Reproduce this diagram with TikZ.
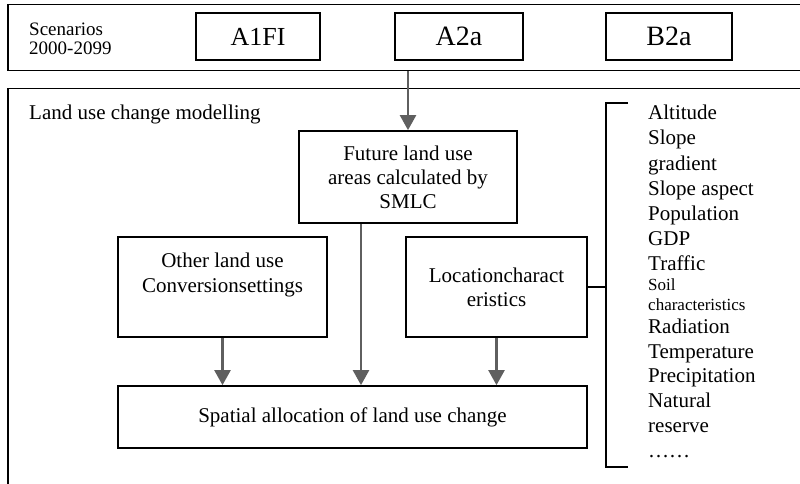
\documentclass[tikz,border=0pt]{standalone}
\usepackage{fontspec}
\setmainfont{Liberation Serif}
\usetikzlibrary{arrows.meta}
\definecolor{arrowgray}{RGB}{95,95,95}
\tikzset{
  frame/.style={draw, line width=1.5pt, inner sep=0pt, anchor=north west},
  box/.style={draw, line width=1.7pt, inner sep=0pt, align=center, font=\fontsize{21}{24}\selectfont},
  flow/.style={draw=arrowgray, line width=2.3pt, -{Triangle[length=15pt,width=16pt]}},
  item/.style={anchor=base west, inner sep=0pt, font=\fontsize{21}{24}\selectfont},
  smallitem/.style={item, font=\fontsize{17}{20}\selectfont}
}

\begin{document}
\begin{tikzpicture}[x=1pt,y=-1pt]
  \useasboundingbox (0,0) rectangle (800,484);
  \clip (0,0) rectangle (800,484);
  % scenarios strip
  \node[frame, minimum width=810, minimum height=66] (scen) at (7,4) {};
  \node[item, align=left, font=\fontsize{19}{19}\selectfont] (scenlbl) at (29,55) {Scenarios\\2000-2099};
  \node[box, minimum width=124, minimum height=47, font=\fontsize{26}{28}\selectfont] (a1fi) at (258,36.5) {A1FI};
  \node[box, minimum width=128, minimum height=47, font=\fontsize{28}{30}\selectfont] (a2a) at (459,36.5) {A2a};
  \node[box, minimum width=126, minimum height=47, font=\fontsize{28}{30}\selectfont] (b2a) at (669,36.5) {B2a};

  % modelling frame
  \node[frame, minimum width=810, minimum height=410] (model) at (7,88) {};
  \node[item] (modlbl) at (29,120) {Land use change modelling};
  \node[box, minimum width=218, minimum height=92] (future) at (408,177) {Future land use\\areas calculated by\\SMLC};
  \node[box, minimum width=209, minimum height=100] (other) at (222.5,287) {};
  \node[align=center, inner sep=0pt, font=\fontsize{21}{25}\selectfont] (othertxt) at ([yshift=12]other.center) {Other land use\\Conversionsettings};
  \node[box, minimum width=181, minimum height=100] (loc) at (496.5,287) {Locationcharact\\eristics};
  \node[box, minimum width=469, minimum height=62] (spatial) at (352.5,417) {Spatial allocation of land use change};

  \draw[flow] (future.north |- scen.south) -- (future.north);
  \draw[flow] ([xshift=-47]future.south) -- ([xshift=-47]future.south |- spatial.north);
  \draw[flow] (other.south) -- (other.south |- spatial.north);
  \draw[flow] (loc.south) -- (loc.south |- spatial.north);

  % factor list
  \coordinate (brtop) at (606,103);
  \coordinate (brbot) at (606,467);
  \draw[line width=1.7pt] ([xshift=22]brtop) -- (brtop) -- (brbot) -- ([xshift=22]brbot);
  \draw[line width=1.7pt] (loc.east) -- (loc.east -| brtop);
  \foreach \y/\txt in {120/Altitude, 145/Slope, 170/gradient, 195/Slope aspect, 220/Population,
      245/GDP, 270/Traffic, 333/Radiation, 358/Temperature, 382/Precipitation,
      407/Natural, 432/reserve, 457/……}
    \node[item] (f\y) at (648,\y) {\txt};
  \node[smallitem] (soil) at (648,290) {Soil};
  \node[smallitem] (soilch) at (648,310) {characteristics};
\end{tikzpicture}
\end{document}
